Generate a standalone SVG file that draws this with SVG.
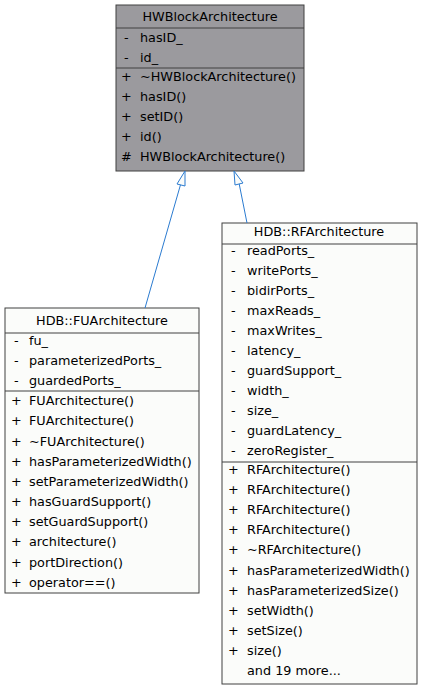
<svg xmlns="http://www.w3.org/2000/svg" width="421" height="689" viewBox="0 0 421 689">
<style>
text{font-family:"DejaVu Sans",sans-serif;font-size:12.8px;fill:#000}
.t{text-anchor:middle}
.box{stroke:#404040;stroke-width:1}
.w{fill:#fbfcfa}
.g{fill:#9b9a9e}
.ln{stroke:#404040;stroke-width:1}
.edge{stroke:#2b7bd0;stroke-width:1;fill:none}
.head{stroke:#2b7bd0;stroke-width:1;fill:#fbfcfa}
</style>
<rect width="421" height="689" fill="#ffffff"/>
<g id="HWBlockArchitecture">
<rect class="box g" x="116" y="5" width="188" height="166"/>
<line class="ln" x1="116" y1="28" x2="304" y2="28"/>
<line class="ln" x1="116" y1="68" x2="304" y2="68"/>
<text class="t" x="210" y="21">HWBlockArchitecture</text>
<text x="124" y="42">-</text><text x="140" y="42">hasID_</text>
<text x="124" y="62">-</text><text x="140" y="62">id_</text>
<text x="121" y="81">+</text><text x="140" y="81">~HWBlockArchitecture()</text>
<text x="121" y="101">+</text><text x="140" y="101">hasID()</text>
<text x="121" y="121">+</text><text x="140" y="121">setID()</text>
<text x="121" y="141">+</text><text x="140" y="141">id()</text>
<text x="121" y="161">#</text><text x="140" y="161">HWBlockArchitecture()</text>
</g>
<g id="FUArchitecture">
<rect class="box w" x="5" y="308" width="194" height="285"/>
<line class="ln" x1="5" y1="333" x2="199" y2="333"/>
<line class="ln" x1="5" y1="391" x2="199" y2="391"/>
<text class="t" x="102" y="325">HDB::FUArchitecture</text>
<text x="14" y="345">-</text><text x="29" y="345">fu_</text>
<text x="14" y="365">-</text><text x="29" y="365">parameterizedPorts_</text>
<text x="14" y="385">-</text><text x="29" y="385">guardedPorts_</text>
<text x="11" y="405">+</text><text x="29" y="405">FUArchitecture()</text>
<text x="11" y="425">+</text><text x="29" y="425">FUArchitecture()</text>
<text x="11" y="446">+</text><text x="29" y="446">~FUArchitecture()</text>
<text x="11" y="466">+</text><text x="29" y="466">hasParameterizedWidth()</text>
<text x="11" y="486">+</text><text x="29" y="486">setParameterizedWidth()</text>
<text x="11" y="506">+</text><text x="29" y="506">hasGuardSupport()</text>
<text x="11" y="526">+</text><text x="29" y="526">setGuardSupport()</text>
<text x="11" y="546">+</text><text x="29" y="546">architecture()</text>
<text x="11" y="567">+</text><text x="29" y="567">portDirection()</text>
<text x="11" y="587">+</text><text x="29" y="587">operator==()</text>
</g>
<g id="RFArchitecture">
<rect class="box w" x="222" y="223" width="195" height="461"/>
<line class="ln" x1="222" y1="244" x2="417" y2="244"/>
<line class="ln" x1="222" y1="462" x2="417" y2="462"/>
<text class="t" x="319" y="236">HDB::RFArchitecture</text>
<text x="231" y="255">-</text><text x="247" y="255">readPorts_</text>
<text x="231" y="275">-</text><text x="247" y="275">writePorts_</text>
<text x="231" y="295">-</text><text x="247" y="295">bidirPorts_</text>
<text x="231" y="315">-</text><text x="247" y="315">maxReads_</text>
<text x="231" y="335">-</text><text x="247" y="335">maxWrites_</text>
<text x="231" y="355">-</text><text x="247" y="355">latency_</text>
<text x="231" y="375">-</text><text x="247" y="375">guardSupport_</text>
<text x="231" y="395">-</text><text x="247" y="395">width_</text>
<text x="231" y="415">-</text><text x="247" y="415">size_</text>
<text x="231" y="435">-</text><text x="247" y="435">guardLatency_</text>
<text x="231" y="455">-</text><text x="247" y="455">zeroRegister_</text>
<text x="228" y="474">+</text><text x="247" y="474">RFArchitecture()</text>
<text x="228" y="494">+</text><text x="247" y="494">RFArchitecture()</text>
<text x="228" y="514">+</text><text x="247" y="514">RFArchitecture()</text>
<text x="228" y="534">+</text><text x="247" y="534">RFArchitecture()</text>
<text x="228" y="554">+</text><text x="247" y="554">~RFArchitecture()</text>
<text x="228" y="575">+</text><text x="247" y="575">hasParameterizedWidth()</text>
<text x="228" y="595">+</text><text x="247" y="595">hasParameterizedSize()</text>
<text x="228" y="615">+</text><text x="247" y="615">setWidth()</text>
<text x="228" y="635">+</text><text x="247" y="635">setSize()</text>
<text x="228" y="655">+</text><text x="247" y="655">size()</text>
<text x="247" y="675">and 19 more...</text>
</g>
<g id="edges">
<path class="edge" d="M145,308 L181,183"/>
<polygon class="head" points="185,171 177,184 185,186"/>
<path class="edge" d="M247,223 L239,183"/>
<polygon class="head" points="234,171 235,185 243,183"/>
</g>
</svg>
